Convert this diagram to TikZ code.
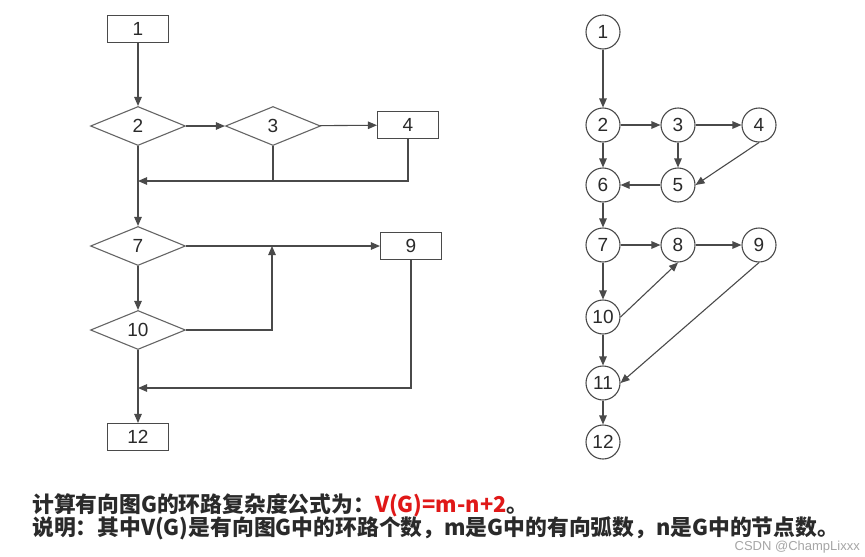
\documentclass[tikz,border=0pt]{standalone}
\usepackage{fontspec}
\setmainfont{Liberation Sans}
\newfontfamily\cjk{Noto Sans CJK SC}
\usetikzlibrary{shapes.geometric,arrows.meta}
\definecolor{linec}{HTML}{4A4A4A}
\definecolor{redtxt}{HTML}{E01818}
\definecolor{txtc}{HTML}{2A2A2A}
\begin{document}
\begin{tikzpicture}[x=1pt,y=-1pt,
  fbox/.style={draw=linec, line width=1.1pt, rectangle, minimum width=61pt, minimum height=27pt, inner sep=0pt, text=txtc, font=\fontsize{19}{19}\selectfont},
  fdia/.style={draw=linec!85, line width=1.1pt, diamond, aspect=2.4, minimum width=95pt, minimum height=39pt, inner sep=0pt, text=txtc, font=\fontsize{19}{19}\selectfont},
  cnode/.style={draw=linec, line width=1.1pt, circle, minimum size=34pt, inner sep=0pt, text=txtc, font=\fontsize{19}{19}\selectfont},
  ln/.style={draw=linec, line width=1.1pt},
  arr/.style={draw=linec, line width=1.1pt, -{Triangle[length=9pt,width=7.5pt]}},
  txt/.style={anchor=west, inner sep=0pt, text=txtc, font=\cjk\bfseries\fontsize{21.8}{21.8}\selectfont}
]
\useasboundingbox (0,0) rectangle (865,557);
\fill[white] (0,0) rectangle (865,557);

% left flowchart
\node[fbox] (L1) at (138,29) {1};
\node[fdia] (L2) at (138,126) {2};
\node[fdia] (L3) at (273,126) {3};
\node[fbox] (L4) at (408,125) {4};
\node[fdia] (L7) at (138,246) {7};
\node[fbox] (L9) at (411,246) {9};
\node[fdia] (L10) at (138,330) {10};
\node[fbox] (L12) at (138,437) {12};
\coordinate (j1) at (138,181);
\coordinate (j3) at (273,181);
\coordinate (j2) at (138,388);
\coordinate (k1) at (272,246);

\draw[arr] (L1) -- (L2);
\draw[arr] (L2) -- (L3);
\draw[arr] (L3) -- (L4);
\draw[ln] (L3.south) -- (j3);
\draw[arr] (L4.south) |- (j1);
\draw[arr] (L2) -- (L7);
\draw[arr] (L7) -- (L9);
\draw[arr] (L10.east) -| (k1);
\draw[arr] (L7) -- (L10);
\draw[arr] (L9.south) |- (j2);
\draw[arr] (L10) -- (L12);

% right graph
\node[cnode] (R1) at (603,32) {1};
\node[cnode] (R2) at (603,125) {2};
\node[cnode] (R3) at (678,125) {3};
\node[cnode] (R4) at (759,125) {4};
\node[cnode] (R6) at (603,185) {6};
\node[cnode] (R5) at (678,185) {5};
\node[cnode] (R7) at (603,245) {7};
\node[cnode] (R8) at (678,245) {8};
\node[cnode] (R9) at (759,245) {9};
\node[cnode] (R10) at (603,317) {10};
\node[cnode] (R11) at (603,383) {11};
\node[cnode] (R12) at (603,442) {12};

\draw[arr] (R1) -- (R2);
\draw[arr] (R2) -- (R3);
\draw[arr] (R3) -- (R4);
\draw[arr] (R2) -- (R6);
\draw[arr] (R3) -- (R5);
\draw[arr] (R4.south) -- (R5.east);
\draw[arr] (R5) -- (R6);
\draw[arr] (R6) -- (R7);
\draw[arr] (R7) -- (R8);
\draw[arr] (R8) -- (R9);
\draw[arr] (R7) -- (R10);
\draw[arr] (R10.east) -- (R8.south);
\draw[arr] (R10) -- (R11);
\draw[arr] (R9.south) -- (R11.east);
\draw[arr] (R11) -- (R12);

% text
\node[txt] (T1) at (32,505) {计算有向图G的环路复杂度公式为：\textcolor{redtxt}{V(G)=m-n+2}。};
\node[txt] (T2) at (32,528) {说明：其中V(G)是有向图G中的环路个数，m是G中的有向弧数，n是G中的节点数。};
\node[anchor=east, inner sep=0pt, text=gray!70, font=\fontsize{13}{13}\selectfont] (W) at (860,547) {CSDN @ChampLixxx};
\end{tikzpicture}
\end{document}
